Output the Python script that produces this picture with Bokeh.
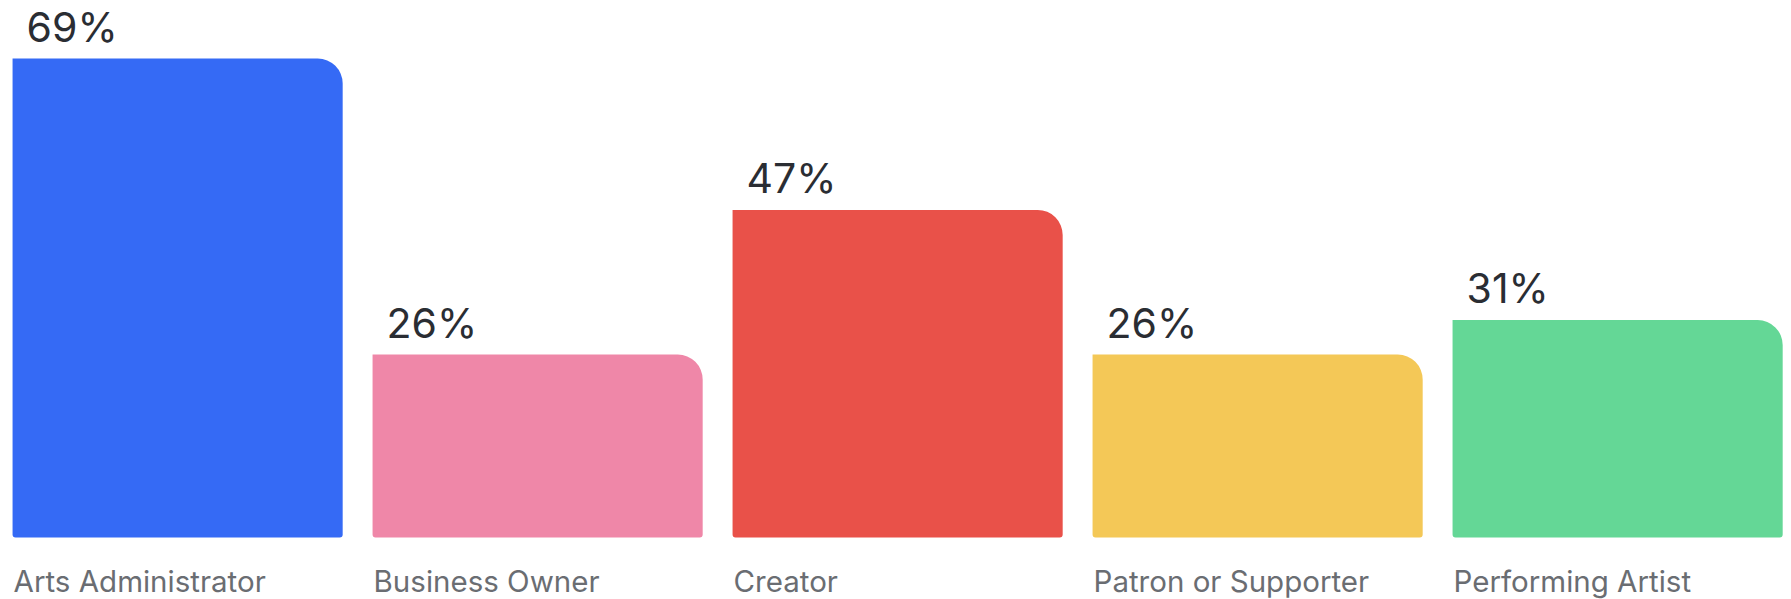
from bokeh.plotting import figure
from bokeh.models import ColumnDataSource, Range1d
from bokeh.core.properties import value
from bokeh.embed import file_html
from bokeh.resources import INLINE

categories = ["Arts Administrator", "Business Owner", "Creator", "Patron or Supporter", "Performing Artist"]
percents = [69, 26, 47, 26, 31]
labels = ["69%", "26%", "47%", "26%", "31%"]
colors = ["#356AF5", "#EF87A8", "#E95149", "#F4C857", "#64D796"]

BAR_W = 0.917
BASE = -0.6
xs = list(range(len(categories)))
lefts = [x - BAR_W / 2 for x in xs]

src = ColumnDataSource(dict(x=xs, left=lefts, top=percents, cat=categories, lab=labels, color=colors))

p = figure(width=1791, height=599, output_backend="svg", toolbar_location=None,
           x_range=Range1d(-0.492, 4.483), y_range=Range1d(-9.59, 77.43),
           min_border=0, outline_line_color=None, background_fill_color="white",
           border_fill_color="white")
p.axis.visible = False
p.grid.visible = False

p.vbar(x="x", top="top", bottom=BASE, width=BAR_W, source=src, fill_color="color",
       line_color=None, border_radius=(0, 25, 3, 3))

p.text(x="left", y="top", text="lab", source=src, x_offset=14, y_offset=-32,
       text_font=value("Inter"), text_font_size="41px", text_color="#2a2d33",
       text_baseline="alphabetic", text_align="left")

p.text(x="left", y=BASE, text="cat", source=src, x_offset=1, y_offset=43,
       text_font=value("Inter"), text_font_size="29.5px", text_color="#6a6d72",
       text_baseline="alphabetic", text_align="left")

open("out.html", "w").write(file_html(p, INLINE))
